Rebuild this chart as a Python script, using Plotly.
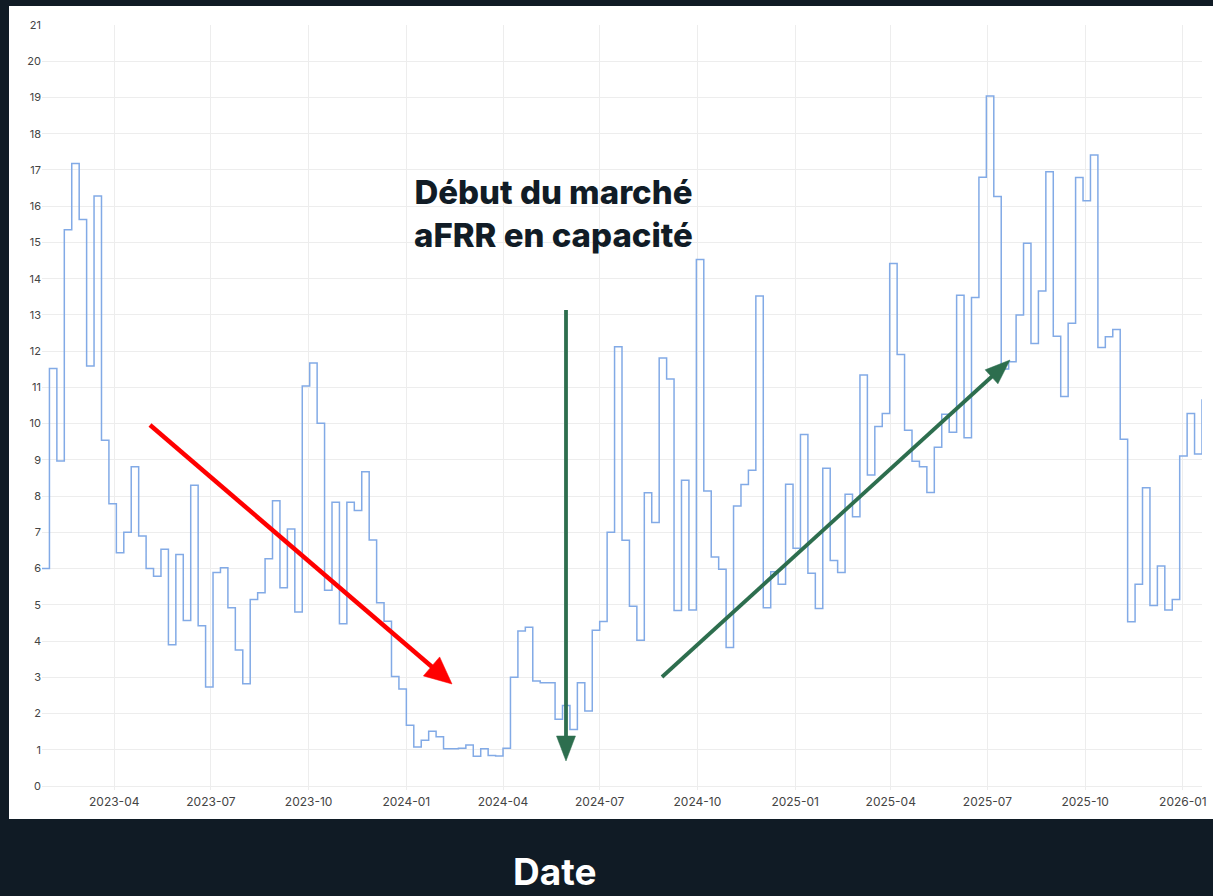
import math

import pandas as pd
import plotly.graph_objects as go

# Weekly series (Monday of each week)
start_date = "2023-01-23"
n_weeks = 157
prices = [
    6.0, 11.52, 8.97, 15.35, 17.18, 15.63, 11.59, 16.28, 9.54, 7.79,
    6.44, 7.0, 8.81, 6.9, 6.0, 5.79, 6.53, 3.9, 6.39, 4.57,
    8.3, 4.42, 2.73, 5.89, 6.02, 4.92, 3.75, 2.82, 5.15, 5.33,
    6.27, 7.87, 5.47, 7.09, 4.8, 11.04, 11.67, 10.01, 5.4, 7.83,
    4.48, 7.83, 7.6, 8.67, 6.79, 5.06, 4.55, 3.02, 2.68, 1.68,
    1.08, 1.26, 1.51, 1.36, 1.03, 1.03, 1.04, 1.13, 0.82, 1.03,
    0.84, 0.83, 1.04, 3.0, 4.28, 4.38, 2.9, 2.85, 2.85, 1.84,
    2.22, 1.56, 2.85, 2.07, 4.3, 4.54, 7.0, 12.12, 6.78, 4.96,
    4.02, 8.09, 7.27, 11.81, 11.23, 4.84, 8.44, 4.86, 14.53, 8.14,
    6.32, 5.98, 3.82, 7.73, 8.32, 8.71, 13.52, 4.92, 5.91, 5.57,
    8.33, 6.56, 9.7, 5.87, 4.9, 8.77, 6.22, 5.89, 8.05, 7.43,
    11.34, 8.58, 9.92, 10.28, 14.42, 11.91, 9.82, 8.96, 8.81, 8.1,
    9.35, 10.26, 9.76, 13.54, 9.61, 13.48, 16.8, 19.04, 16.27, 11.51,
    11.71, 13.0, 14.98, 12.21, 13.66, 16.95, 12.41, 10.75, 12.77, 16.79,
    16.15, 17.41, 12.1, 12.4, 12.6, 9.57, 4.53, 5.57, 8.23, 4.98,
    6.07, 4.86, 5.15, 9.11, 10.28, 9.16, 10.67,
]
dates = pd.date_range(start_date, periods=n_weeks, freq="7D")

title_lines = ["Début du marché", "aFRR en capacité"]
x_title = "Date"

W, H = 1213, 896
L, R, T, B = 42, 1202, 25, 790  # plot area in page pixels

BG = "#101b25"
GRID = "#ededed"
LINE = "#82aae6"
RED = "#ff0000"
GREEN = "#2d6e4e"


def px(x):
    return (x - L) / (R - L)


def py(y):
    return (B - y) / (B - T)


def arrow(x0, y0, x1, y1, color, width, head_len, head_w):
    """Straight line with a filled triangular head at (x1, y1), page pixels."""
    dx, dy = x1 - x0, y1 - y0
    d = math.hypot(dx, dy)
    ux, uy = dx / d, dy / d
    nx, ny = -uy, ux
    bx, by = x1 - ux * head_len, y1 - uy * head_len
    line = dict(type="line", xref="paper", yref="paper",
                x0=px(x0), y0=py(y0), x1=px(bx + ux * 2), y1=py(by + uy * 2),
                line=dict(color=color, width=width))
    pts = [(x1, y1), (bx + nx * head_w / 2, by + ny * head_w / 2),
           (bx - nx * head_w / 2, by - ny * head_w / 2)]
    path = "M " + " L ".join(f"{px(a):.5f},{py(b):.5f}" for a, b in pts) + " Z"
    head = dict(type="path", xref="paper", yref="paper", path=path,
                fillcolor=color, line=dict(color=color, width=0.5))
    return [line, head]


fig = go.Figure()
fig.add_trace(go.Scatter(
    x=dates, y=prices, mode="lines", line=dict(color=LINE, width=1.5, shape="hv"),
    showlegend=False, hoverinfo="x+y",
))

shapes = [dict(type="rect", xref="paper", yref="paper", layer="below",
               x0=px(9), x1=px(1240), y0=py(819), y1=py(6),
               fillcolor="white", line=dict(width=0))]
shapes += arrow(150, 425, 452, 684, RED, 4.5, 27, 25)
shapes += arrow(566, 310, 566, 761, GREEN, 3.8, 25, 19)
shapes += arrow(662, 677, 1010, 360, GREEN, 3.8, 25, 19)

fig.update_layout(
    width=W, height=H,
    margin=dict(l=L, r=W - R, t=T, b=H - B, autoexpand=False),
    paper_bgcolor=BG, plot_bgcolor="white",
    shapes=shapes,
    xaxis=dict(
        type="date", range=[dates[0], dates[-1]], automargin=False,
        dtick="M3", tick0="2023-01-01", tickformat="%Y-%m",
        showgrid=True, gridcolor=GRID, gridwidth=1,
        showline=False, zeroline=False, ticks="", ticklabelstandoff=3,
        tickfont=dict(family="Inter", size=12, color="#444"),
    ),
    yaxis=dict(
        range=[-0.11, 21], dtick=1, tick0=0, automargin=False,
        showgrid=True, gridcolor=GRID, gridwidth=1,
        zeroline=True, zerolinecolor=GRID, zerolinewidth=1,
        showline=False, ticks="",
        tickfont=dict(family="Inter", size=11, color="#444"),
    ),
    annotations=[
        dict(xref="paper", yref="paper", x=px(553), y=py(213),
             text="<br>".join(title_lines), showarrow=False,
             xanchor="center", yanchor="middle", align="center",
             font=dict(family="Inter", size=33, color="#111c26", weight=800)),
        dict(xref="paper", yref="paper", x=px(554), y=py(871),
             text=x_title, showarrow=False, xanchor="center", yanchor="middle",
             font=dict(family="Inter", size=37, color="white", weight=700)),
    ],
)

fig.write_html("out.html")
